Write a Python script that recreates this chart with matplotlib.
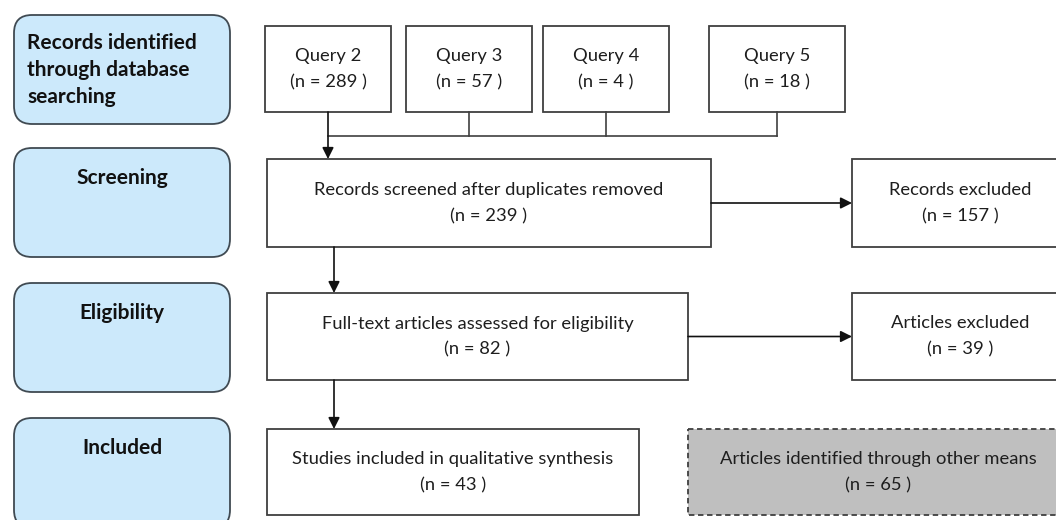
import matplotlib.pyplot as plt
from matplotlib.patches import FancyBboxPatch, Rectangle

plt.rcParams['font.family'] = ['Lato', 'DejaVu Sans']

# --- data ---
stage_labels = ["Records identified\nthrough database\nsearching", "Screening", "Eligibility", "Included"]
query_names = ["Query 2", "Query 3", "Query 4", "Query 5"]
query_counts = [289, 57, 4, 18]
flow_labels = ["Records screened after duplicates removed",
               "Full-text articles assessed for eligibility",
               "Studies included in qualitative synthesis"]
flow_counts = [239, 82, 43]
excluded_labels = ["Records excluded", "Articles excluded"]
excluded_counts = [157, 39]
other_label = "Articles identified through other means"
other_count = 65

# --- layout (pixel units) ---
W, H = 1056, 520
stage_x0, stage_x1 = 14, 230
stage_rows = [(15, 124), (148, 257), (283, 392), (418, 528)]
query_boxes = [(265, 391), (406, 532), (543, 669), (709, 845)]
query_y = (26, 112)
join_y = 136
flow_x0 = 267
flow_right = [711, 688, 639]
flow_rows = [(159, 247), (293, 380), (429, 515)]
excl_x0, excl_x1 = 852, 1068
other_x0, other_x1 = 688, 1068

edge = '#3f3f3f'
txt = '#1e1e1e'
fs = 13.2
fs_bold = 15

fig = plt.figure(figsize=(W / 100, H / 100), dpi=100)
ax = fig.add_axes([0, 0, 1, 1])
ax.set_xlim(0, W)
ax.set_ylim(H, 0)
ax.axis('off')


def box(x0, x1, y0, y1, **kw):
    r = Rectangle((x0, y0), x1 - x0, y1 - y0, facecolor=kw.get('fc', 'white'),
                  edgecolor=edge, linewidth=1.3, linestyle=kw.get('ls', '-'))
    ax.add_patch(r)


def two_lines(cx, y0, y1, a, b):
    cy = (y0 + y1) / 2
    ax.text(cx, cy - 13, a, ha='center', va='center', fontsize=fs, color=txt)
    ax.text(cx, cy + 13, b, ha='center', va='center', fontsize=fs, color=txt)


def arrow(x0, y0, x1, y1):
    ax.annotate('', xy=(x1, y1), xytext=(x0, y0),
                arrowprops=dict(arrowstyle='-|>', color='#111111', lw=1.2,
                                mutation_scale=17, shrinkA=0, shrinkB=0))


# stage boxes
for i, (lab, (y0, y1)) in enumerate(zip(stage_labels, stage_rows)):
    p = FancyBboxPatch((stage_x0, y0), stage_x1 - stage_x0, y1 - y0,
                       boxstyle='round,pad=0,rounding_size=18',
                       facecolor='#cce9fb', edgecolor='#404a52', linewidth=1.3)
    ax.add_patch(p)
    if i == 0:
        for k, line in enumerate(lab.split('\n')):
            ax.text(27, 43 + 27 * k, line, ha='left', va='center', fontsize=fs_bold,
                    fontweight='bold', color='#111111')
    else:
        ax.text((stage_x0 + stage_x1) / 2, y0 + 30, lab, ha='center', va='center',
                fontsize=fs_bold, fontweight='bold', color='#111111')

# query boxes
for name, n, (x0, x1) in zip(query_names, query_counts, query_boxes):
    box(x0, x1, *query_y)
    two_lines((x0 + x1) / 2, *query_y, name, f"(n = {n} )")

# joining lines from the queries
centers = [(x0 + x1) / 2 for x0, x1 in query_boxes]
for c in centers[1:]:
    ax.plot([c, c], [query_y[1], join_y], color=edge, lw=1.2)
ax.plot([centers[0], centers[-1]], [join_y, join_y], color=edge, lw=1.2)
arrow(centers[0], query_y[1], centers[0], flow_rows[0][0])

# main flow
for lab, n, x1, (y0, y1) in zip(flow_labels, flow_counts, flow_right, flow_rows):
    box(flow_x0, x1, y0, y1)
    two_lines((flow_x0 + x1) / 2, y0, y1, lab, f"(n = {n} )")

down_x = 334
for (a0, a1), (b0, b1) in zip(flow_rows[:-1], flow_rows[1:]):
    arrow(down_x, a1, down_x, b0)

# excluded boxes
for lab, n, x1, (y0, y1) in zip(excluded_labels, excluded_counts, flow_right, flow_rows):
    box(excl_x0, excl_x1, y0, y1)
    two_lines((excl_x0 + excl_x1) / 2, y0, y1, lab, f"(n = {n} )")
    arrow(x1, (y0 + y1) / 2, excl_x0, (y0 + y1) / 2)

# other means (dashed grey)
y0, y1 = flow_rows[2]
box(other_x0, other_x1, y0, y1, fc='#bfbfbf', ls=(0, (3, 2)))
two_lines((other_x0 + other_x1) / 2, y0, y1, other_label, f"(n = {other_count} )")

fig.savefig('out.png', dpi=100)
